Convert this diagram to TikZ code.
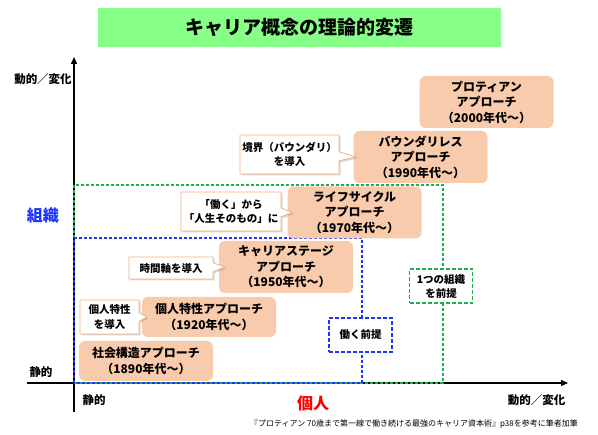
\documentclass[tikz,border=0pt]{standalone}
\usepackage{fontspec}
\setmainfont{Noto Sans CJK JP}
\usetikzlibrary{arrows.meta,shapes.callouts,shadows}

\definecolor{titlegreen}{HTML}{88FF88}
\definecolor{apfill}{HTML}{F8CBAD}
\definecolor{notedraw}{HTML}{F4B183}
\definecolor{orggreen}{HTML}{1DB04F}
\definecolor{indblue}{HTML}{1F35FF}

\begin{document}
\begin{tikzpicture}[x=1pt, y=-1pt,
  approach/.style={fill=apfill, rounded corners=6pt, minimum width=134pt, minimum height=40pt, inner sep=0pt, align=center, font=\bfseries\fontsize{12}{15.5}\selectfont},
  note/.style={rectangle callout, draw=notedraw, line width=0.8pt, fill=white, inner sep=0pt, align=center, callout pointer width=9pt, font=\bfseries\fontsize{10.5}{14.5}\selectfont, drop shadow={shadow xshift=1.5pt, shadow yshift=-1.5pt, opacity=0.3}},
  premise/.style={line width=1.5pt, dash pattern=on 4pt off 2pt, fill=white, minimum width=63pt, minimum height=34pt, inner sep=0pt, align=center, font=\bfseries\fontsize{10.5}{14}\selectfont},
  area/.style={line width=1.2pt, dash pattern=on 3pt off 2pt},
  axis/.style={line width=1.3pt, -{Triangle[length=7pt,width=6pt]}},
  axislabel/.style={font=\bfseries\fontsize{11.5}{14}\selectfont}
]
\useasboundingbox (0,0) rectangle (598,435);

% title
\node[fill=titlegreen, minimum width=403pt, minimum height=39pt, font=\bfseries\fontsize{19}{22}\selectfont] (title) at (299.5,27.5) {キャリア概念の理論的変遷};

% axes
\coordinate (origin) at (74,383);
\coordinate (ytop) at (74,57);
\coordinate (ybot) at (74,412);
\coordinate (xleft) at (27,383);
\coordinate (xright) at (568,383);
\draw[axis] (ybot) -- (ytop);
\draw[axis] (xleft) -- (xright);

\node[axislabel] (ydyn) at (43,79) {動的／変化};
\node[axislabel] (ystat) at (41,372) {静的};
\node[axislabel] (xstat) at (94,400) {静的};
\node[axislabel] (xdyn) at (536.5,400) {動的／変化};
\node[font=\bfseries\fontsize{16}{18}\selectfont, text=indblue] (org) at (43,215) {組織};
\node[font=\bfseries\fontsize{16}{18}\selectfont, text=red] (ind) at (313,403) {個人};

% premise areas
\draw[area, orggreen] (origin) rectangle (443,185);
\draw[area, indblue] (origin) rectangle (362,238);
\node[premise, draw=orggreen] (onefirm) at (441,286) {1つの組織\\を前提};
\node[premise, draw=indblue] (work) at (360.5,335) {働く前提};

% approaches
\node[approach] (social) at (146,361) {社会構造アプローチ\\（1890年代～）};
\node[approach] (trait) at (209,317) {個人特性アプローチ\\（1920年代～）};
\node[approach, minimum height=52pt] (stage) at (286,267) {キャリアステージ\\アプローチ\\（1950年代～）};
\node[approach, minimum height=52pt] (life) at (354.5,212.5) {ライフサイクル\\アプローチ\\（1970年代～）};
\node[approach, minimum height=52pt] (bless) at (420.5,157) {バウンダリレス\\アプローチ\\（1990年代～）};
\node[approach, minimum height=52pt] (protean) at (486.5,102) {プロティアン\\アプローチ\\（2000年代～）};

% notes
\node[note, minimum width=59pt, minimum height=34pt, callout absolute pointer={([xshift=5pt]trait.west)}] (traitnote) at (109.5,317) {個人特性\\を導入};
\node[note, minimum width=84pt, minimum height=22pt, callout absolute pointer={([xshift=6pt]stage.west)}] (stagenote) at (171,268) {時間軸を導入};
\node[note, minimum width=100pt, minimum height=39pt, callout absolute pointer={([xshift=5pt]life.west)}] (lifenote) at (231,211.5) {「働く」から\\「人生そのもの」に};
\node[note, minimum width=99pt, minimum height=39pt, callout absolute pointer={([xshift=3pt]bless.west)}] (blessnote) at (289.5,154.5) {境界（バウンダリ）\\を導入};

% source
\node[font=\fontsize{8}{10}\selectfont] (source) at (414,424) {『プロティアン 70歳まで第一線で働き続ける最強のキャリア資本術』p38を参考に筆者加筆};

\end{tikzpicture}
\end{document}
